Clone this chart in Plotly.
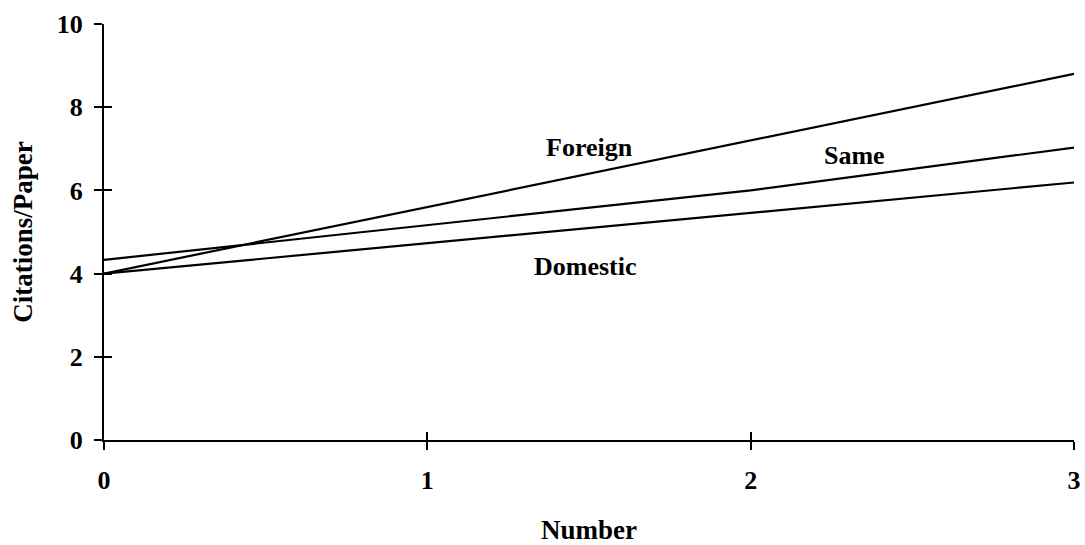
import plotly.graph_objects as go

x_vals = [0, 1, 2, 3]
foreign = [4.0, 5.6, 7.2, 8.8]
same = [4.33, 5.17, 6.0, 7.03]
domestic = [4.0, 4.73, 5.46, 6.19]

labels = ["Foreign", "Same", "Domestic"]
label_x = [1.50, 2.32, 1.49]
label_y = [7.02, 6.85, 4.16]

x_ticks = [0, 1, 2, 3]
y_ticks = [0, 2, 4, 6, 8, 10]

FONT = "Liberation Serif, Times New Roman, serif"

fig = go.Figure()
series = [("Foreign", foreign, "x", "y"), ("Same", same, "x", "y"),
          ("Domestic", domestic, "x2", "y2")]
for name, ys, xa, ya in series:
    fig.add_trace(go.Scatter(x=x_vals, y=ys, mode="lines", name=name,
                             xaxis=xa, yaxis=ya,
                             line=dict(color="black", width=2.2), showlegend=False,
                             cliponaxis=False))

for t, lx, ly in zip(labels, label_x, label_y):
    fig.add_annotation(x=lx, y=ly, text="<b>%s</b>" % t, showarrow=False,
                       font=dict(family=FONT, size=26, color="black"))

axis_common = dict(showgrid=False, zeroline=False, showline=True, linecolor="black",
                   linewidth=2, ticks="outside", ticklen=8, tickwidth=2, tickcolor="black",
                   automargin=False,
                   tickfont=dict(family=FONT, size=26, color="black"))

fig.update_layout(
    width=1085, height=545,
    margin=dict(l=104, r=11, t=24, b=105),
    plot_bgcolor="white", paper_bgcolor="white",
    xaxis=dict(range=[0, 3], tickvals=x_ticks, ticktext=["<b>%d</b>" % v for v in x_ticks],
               title=dict(text="<b>Number</b>", font=dict(family=FONT, size=27, color="black"),
                          standoff=40),
               ticklabelstandoff=8,
               **axis_common),
    yaxis=dict(range=[0, 10], tickvals=y_ticks, ticktext=["<b>%d</b>" % v for v in y_ticks],
               title=dict(text="<b>Citations/Paper</b>", font=dict(family=FONT, size=27, color="black"),
                          standoff=16),
               ticklabelstandoff=6,
               **axis_common),
    xaxis2=dict(range=[0, 3], overlaying="x", tickvals=x_ticks, showticklabels=False,
                ticks="inside", ticklen=8, tickwidth=2, tickcolor="black", automargin=False,
                showgrid=False, zeroline=False, showline=False, side="bottom"),
    yaxis2=dict(range=[0, 10], overlaying="y", tickvals=y_ticks, showticklabels=False,
                ticks="inside", ticklen=8, tickwidth=2, tickcolor="black", automargin=False,
                showgrid=False, zeroline=False, showline=False, side="left"),
)

fig.write_html("out.html", config={"displayModeBar": False},
               post_script="document.body.style.margin='0';")
